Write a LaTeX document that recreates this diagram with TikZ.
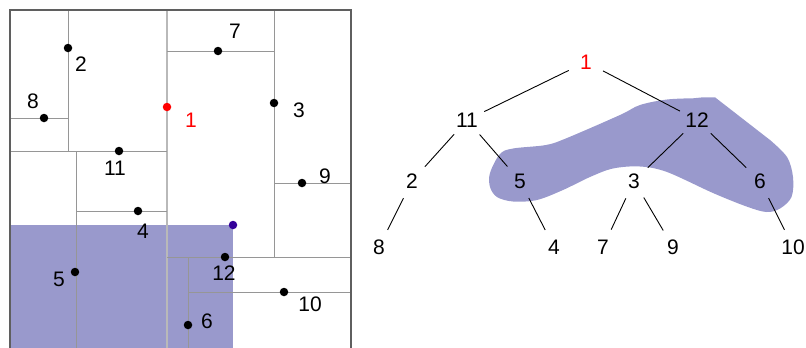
\documentclass[tikz,border=0pt]{standalone}
\usepackage{fontspec}
\setmainfont{Liberation Sans}
\definecolor{qshadecol}{RGB}{153,153,204}
\definecolor{dotblue}{RGB}{51,0,153}
\definecolor{partgray}{RGB}{150,150,150}
\definecolor{maingray}{RGB}{185,185,185}
\definecolor{framegray}{RGB}{95,95,95}
\begin{document}
\begin{tikzpicture}[x=1pt,y=-1pt,
  lbl/.style={font=\fontsize{21}{25}\selectfont, inner sep=0pt},
  pt/.style={circle, fill=black, inner sep=0pt, minimum size=8.5pt},
  part/.style={draw=partgray, line width=1pt},
  tn/.style={circle, inner sep=0pt, minimum size=38pt, font=\fontsize{21}{25}\selectfont},
  edge/.style={draw=black, line width=0.9pt}]
\useasboundingbox (0,0) rectangle (806,348);
\begin{scope}
\clip (0,0) rectangle (806,348);
% shaded query region
\fill[fill=qshadecol] (10,225) rectangle (233,350);
% partition lines
\draw[draw=maingray, line width=2pt] (167,10) -- (167,350);
\draw[part] (68,10) -- (68,151);
\draw[part] (10,151) -- (167,151);
\draw[part] (10,118) -- (68,118);
\draw[part] (167,51) -- (274,51);
\draw[part] (274,10) -- (274,257);
\draw[part] (274,183) -- (351,183);
\draw[part] (76,151) -- (76,350);
\draw[part] (76,211) -- (167,211);
\draw[part] (167,257) -- (351,257);
\draw[part] (188,257) -- (188,350);
\draw[part] (188,292) -- (351,292);
\draw[draw=framegray, line width=1.3pt] (10,350) -- (10,10) -- (351,10) -- (351,350);
\end{scope}
% points
\node[pt, fill=red] (p1) at (167,107) {};
\node[pt] (p2) at (68,48) {};
\node[pt] (p3) at (274,103) {};
\node[pt] (p4) at (138,211) {};
\node[pt] (p5) at (75,272) {};
\node[pt] (p6) at (188,325) {};
\node[pt] (p7) at (218,51) {};
\node[pt] (p8) at (44,118) {};
\node[pt] (p9) at (302,183) {};
\node[pt] (p10) at (284,292) {};
\node[pt] (p11) at (119,151) {};
\node[pt] (p12) at (225,257) {};
\node[pt, fill=dotblue] (pq) at (233,225) {};
% point labels
\node[lbl, text=red] (l1) at (191,120) {1};
\node[lbl] (l2) at (81,64) {2};
\node[lbl] (l3) at (299,110) {3};
\node[lbl] (l4) at (143,231) {4};
\node[lbl] (l5) at (59,279) {5};
\node[lbl] (l6) at (207,321) {6};
\node[lbl] (l7) at (235,31) {7};
\node[lbl] (l8) at (33,101) {8};
\node[lbl] (l9) at (325,176) {9};
\node[lbl] (l10) at (310,304) {10};
\node[lbl] (l11) at (115,168) {11};
\node[lbl] (l12) at (224,273) {12};
% tree blob
\fill[fill=qshadecol] (715,97.3) -- plot[smooth, tension=0.55] coordinates {
  (770,140) (787,157) (793,177) (791.5,197)
  (780,208.5) (766.5,212) (746.5,206.5) (713,193) (667,172) (640,166.5)
  (613,168.5) (590,177) (563,190) (537,200) (513,201.5) (497,197) (490,187)
  (490,173) (500,154) (513,148.5) (546,145) (567,138) (620,115) (640,105)
  (667,99.5) (693,98.3)} -- (701,97.5) -- cycle;
% tree nodes
\node[tn, text=red] (t1) at (586,62) {1};
\node[tn] (t11) at (467,120) {11};
\node[tn] (t12) at (697,120) {12};
\node[tn] (t2) at (412,181) {2};
\node[tn] (t5) at (520,181) {5};
\node[tn] (t3) at (634,181) {3};
\node[tn] (t6) at (760,181) {6};
\node[tn] (t8) at (379,247) {8};
\node[tn] (t4) at (554,247) {4};
\node[tn] (t7) at (603,247) {7};
\node[tn] (t9) at (673,247) {9};
\node[tn] (t10) at (793,247) {10};
% tree edges
\draw[edge] (t1) -- (t11);
\draw[edge] (t1) -- (t12);
\draw[edge] (t11) -- (t2);
\draw[edge] (t11) -- (t5);
\draw[edge] (t12) -- (t3);
\draw[edge] (t12) -- (t6);
\draw[edge] (t2) -- (t8);
\draw[edge] (t5) -- (t4);
\draw[edge] (t3) -- (t7);
\draw[edge] (t3) -- (t9);
\draw[edge] (t6) -- (t10);
\end{tikzpicture}
\end{document}
